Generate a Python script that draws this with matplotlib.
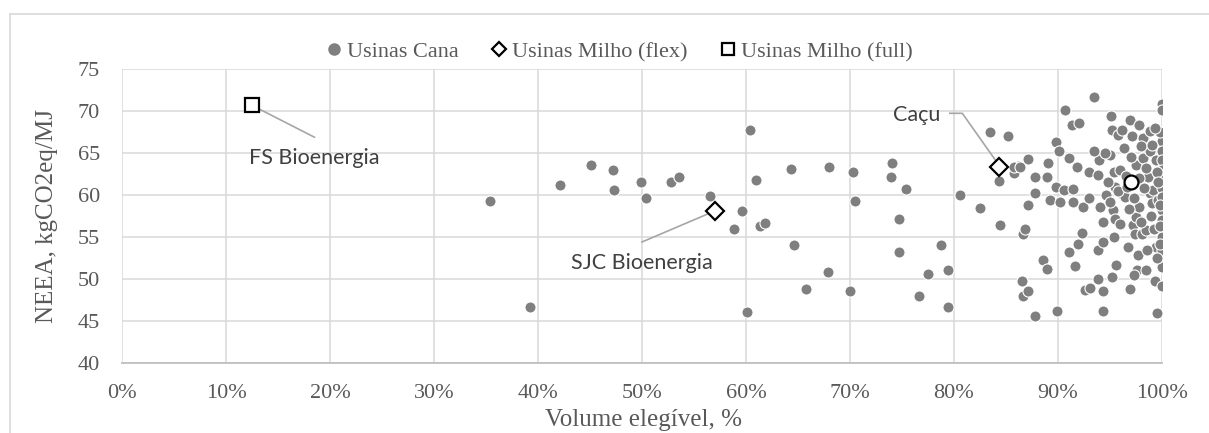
import numpy as np
import matplotlib.pyplot as plt
from matplotlib.lines import Line2D

# sugar cane plants: eligible volume (%) and NEEA (kgCO2eq/MJ)
cana_x = [35.4, 39.2, 42.1, 45.1, 47.2, 47.3, 49.9, 50.4, 52.8, 53.6,
          56.5, 58.8, 59.6, 60.1, 60.4, 61.0, 61.3, 61.8, 64.3, 64.6,
          65.8, 67.9, 68.0, 70.0, 70.3, 70.5, 73.9, 74.0, 74.7, 74.7,
          75.4, 76.6, 77.5, 78.75, 79.4, 79.4, 80.6, 82.5, 83.5, 84.3,
          84.4, 85.2, 85.8, 86.2, 86.5, 86.6, 86.6, 86.8, 87.1, 87.1,
          87.1, 87.8, 87.8, 87.8, 88.6, 88.9, 88.9, 89.0, 89.2, 89.8,
          89.8, 89.9, 90.1, 90.2, 90.6, 90.7, 91.1, 91.1, 91.3, 91.4,
          91.4, 91.6, 91.8, 91.9, 92.0, 92.3, 92.4, 92.6, 93.0, 93.0,
          93.1, 93.5, 93.8, 93.8, 93.8, 93.9, 94.3, 94.3, 94.3, 94.3,
          95.0, 95.1, 95.2, 95.3, 95.4, 95.4, 95.5, 95.5, 95.6, 95.8,
          96.25, 96.3, 96.4, 96.7, 96.9, 96.9, 97.1, 97.1, 97.2, 97.4,
          97.5, 97.5, 97.6, 97.7, 97.8, 98.1, 98.2, 98.2, 98.5, 98.5,
          98.7, 98.8, 98.8, 98.8, 99.0, 99.1, 99.2, 99.3, 99.4, 99.4,
          99.5, 99.6, 100.0, 100.0, 100.0, 100.0, 100.0, 100.0, 100.0, 100.0,
          100.0, 100.0, 100.0, 100.0, 100.0, 100.0, 100.0,
          96.0, 96.5, 97.0, 97.8, 98.3, 98.0, 99.0, 99.5, 99.6, 99.8,
          99.8, 99.8, 99.8, 99.5, 98.9, 96.8, 96.0, 95.8, 94.6, 94.8,
          94.5, 96.2, 97.8, 98.5, 99.3, 98.6, 97.3, 95.2, 94.0, 95.0,
          93.5, 96.6, 97.3, 98.0, 85.8, 86.3]
cana_y = [59.3, 46.6, 61.2, 63.6, 63.0, 60.6, 61.6, 59.7, 61.5, 62.2,
          59.9, 56.0, 58.1, 46.0, 67.7, 61.8, 56.3, 56.7, 63.1, 54.1,
          48.8, 50.8, 63.3, 48.5, 62.8, 59.3, 62.2, 63.8, 57.2, 53.2,
          60.7, 48.0, 50.6, 54.1, 51.1, 46.7, 60.0, 58.4, 67.5, 61.7,
          56.4, 67.1, 62.6, 63.5, 49.8, 48.0, 55.4, 55.9, 48.6, 64.3,
          58.8, 62.2, 60.2, 45.6, 52.2, 51.2, 62.2, 63.8, 59.4, 66.3,
          61.0, 46.2, 65.2, 59.2, 60.6, 70.1, 64.4, 53.2, 68.3, 60.7,
          59.2, 51.5, 63.3, 54.2, 68.6, 55.5, 58.6, 48.7, 62.8, 59.6,
          48.9, 71.7, 62.4, 50.0, 53.4, 64.2, 56.8, 46.2, 48.6, 54.4,
          64.8, 69.4, 67.8, 58.2, 62.8, 55.0, 61.0, 57.2, 51.7, 67.2,
          60.0, 65.6, 59.8, 53.8, 69.0, 48.8, 67.0, 61.8, 56.4, 55.4,
          63.6, 57.4, 51.0, 52.8, 58.6, 55.4, 66.8, 64.4, 51.1, 55.8,
          62.2, 67.6, 65.3, 60.2, 59.0, 60.6, 56.0, 49.8, 53.8, 64.2,
          45.9, 59.4, 70.9, 70.1, 66.4, 65.2, 64.2, 63.0, 61.8, 60.8,
          58.2, 57.0, 55.0, 53.4, 51.4, 49.2, 59.8,
          63.0, 62.3, 64.5, 62.0, 60.8, 65.8, 66.0, 62.8, 61.5, 67.5,
          58.8, 56.3, 54.2, 52.5, 57.5, 58.3, 56.5, 60.5, 60.0, 61.6,
          65.0, 67.8, 68.3, 63.2, 68.0, 53.5, 50.5, 50.2, 58.6, 59.2,
          65.2, 61.0, 59.6, 56.8, 63.3, 63.4]

# corn plants
flex_x = [57.0, 84.3]
flex_y = [58.1, 63.3]
flex_names = ['SJC Bioenergia', 'Caçu']
full_x = [12.5]
full_y = [70.7]
full_names = ['FS Bioenergia']
# highlighted cane plant
dest_x = [97.0]
dest_y = [61.5]

plt.rcParams['font.family'] = ['Liberation Serif', 'DejaVu Serif']
grey = '#595959'

fig = plt.figure(figsize=(12.09, 4.33), dpi=100)
ax = fig.add_axes([122/1209, 1-362.7/433, 1040/1209, 293.4/433])

ax.scatter(cana_x, cana_y, s=64, c='#7f7f7f', edgecolors='white', linewidths=0.8, zorder=3)
ax.plot(flex_x, flex_y, ls='none', marker='D', ms=9, mfc='white', mec='black', mew=1.6, zorder=4)
ax.plot(full_x, full_y, ls='none', marker='s', ms=9.5, mfc='white', mec='black', mew=1.6, zorder=4)
ax.plot(dest_x, dest_y, ls='none', marker='o', ms=10, mfc='white', mec='black', mew=1.6, zorder=4)

# data labels with leader lines
lab_font = dict(family='Lato', fontsize=15.5, color='#404040', ha='center', va='center')
lc = '#a6a6a6'
ax.plot([full_x[0], 18.5], [full_y[0], 66.9], color=lc, lw=1.2, zorder=2)
ax.text(18.5, 64.4, full_names[0], **lab_font)
ax.plot([flex_x[0], 50.0], [flex_y[0], 54.4], color=lc, lw=1.2, zorder=2)
ax.text(50.0, 51.9, flex_names[0], **lab_font)
ax.plot([79.6, 80.8, flex_x[1]], [69.75, 69.75, 63.6], color=lc, lw=1.2, zorder=2)
ax.text(76.4, 69.6, flex_names[1], **lab_font)

ax.set_xlim(0, 100)
ax.set_ylim(40, 75)
ax.set_xticks(np.arange(0, 101, 10))
ax.set_xticklabels([f'{v}%' for v in range(0, 101, 10)])
ax.set_yticks(np.arange(40, 76, 5))
ax.grid(True, color='#d9d9d9', lw=1.1)
ax.set_axisbelow(True)
for s in ['top', 'right', 'left']:
    ax.spines[s].set_visible(False)
ax.spines['bottom'].set_color('#bfbfbf')
ax.spines['bottom'].set_linewidth(1.3)
ax.tick_params(length=0, labelsize=16, labelcolor=grey)
ax.tick_params(axis='y', pad=16)
ax.tick_params(axis='x', pad=15)

ax.set_xlabel('Volume elegível, %', fontsize=18, color=grey)
ax.xaxis.set_label_coords(0.501, -0.195)
ax.xaxis.label.set_va('center')
ax.set_ylabel('NEEA, kgCO2eq/MJ', fontsize=18, color=grey)
ax.yaxis.set_label_coords(-0.072, 0.5)
ax.yaxis.label.set_va('center')

handles = [
    Line2D([], [], ls='none', marker='o', ms=8, mfc='#7f7f7f', mec='#7f7f7f'),
    Line2D([], [], ls='none', marker='D', ms=7, mfc='white', mec='black', mew=1.6),
    Line2D([], [], ls='none', marker='s', ms=9, mfc='white', mec='black', mew=1.6),
]
leg = fig.legend(handles, ['Usinas Cana', 'Usinas Milho (flex)', 'Usinas Milho (full)'],
                 loc='center', bbox_to_anchor=(619/1209, 1-52/433), ncol=3, frameon=False,
                 fontsize=16, handlelength=0.8, handletextpad=0.2, columnspacing=1.4)
for t in leg.get_texts():
    t.set_color(grey)

# chart area border (cropped in the original)
fig.add_artist(Line2D([10/1209, 10/1209], [0, 1-14/433], color='#d9d9d9', lw=1.2))
fig.add_artist(Line2D([10/1209, 1], [1-14/433, 1-14/433], color='#d9d9d9', lw=1.2))

fig.savefig('out.png', dpi=100)
